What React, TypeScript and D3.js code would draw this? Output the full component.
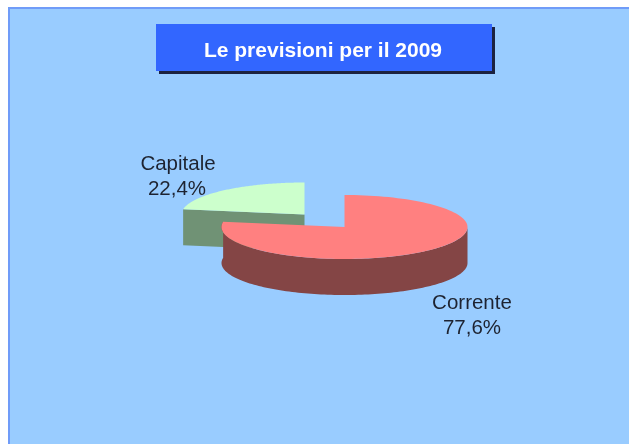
import React from "react";
import * as d3 from "d3";

const categories = ["Capitale", "Corrente"];
const values = [22.4, 77.6];
const valueLabels = ["22,4%", "77,6%"];
const titleText = "Le previsioni per il 2009";

const W = 629, H = 444;
const RX = 123, RY = 32, DEPTH = 36;
const centers = [{ x: 304.5, y: 214.5 }, { x: 344.5, y: 227 }];
const topColors = ["#ccffcc", "#ff8080"];
const sideColors = ["#6f9274", "#844545"];
const labelPos = [{ x: 178, y: 170 }, { x: 472, y: 309 }];

// Capitale ends at 12 o'clock; Corrente starts there and runs clockwise
const total = d3.sum(values);
const angle = d3.scaleLinear().domain([0, total]).range([0, 2 * Math.PI]);
const slices = [
  { start: -angle(values[0]), end: 0 },
  { start: 0, end: angle(values[1]) },
];

const pt = (c: { x: number; y: number }, a: number, dy = 0): [number, number] => [
  c.x + RX * Math.sin(a),
  c.y - RY * Math.cos(a) + dy,
];

const topPath = (i: number) => {
  const s = slices[i], c = centers[i];
  const pts = d3.range(0, 121).map((k) => pt(c, s.start + ((s.end - s.start) * k) / 120));
  return d3.line()([[c.x, c.y], ...pts, [c.x, c.y]]) + "Z";
};

// outer wall of Corrente: only the part facing the viewer
const wallPath = () => {
  const s = slices[1], c = centers[1];
  const from = Math.PI / 2, to = s.end;
  const arcPts = d3.range(0, 121).map((k) => from + ((to - from) * k) / 120);
  const upper = arcPts.map((a) => pt(c, a));
  const lower = arcPts.slice().reverse().map((a) => pt(c, a, DEPTH));
  return d3.line()([...upper, ...lower]) + "Z";
};

// cut face of Capitale, from the centre to its left corner
const facePath = () => {
  const s = slices[0], c = centers[0];
  const p = pt(c, s.start);
  return d3.line()([[c.x, c.y], p, [p[0], p[1] + DEPTH], [c.x, c.y + DEPTH]]) + "Z";
};

export default function App() {
  return (
    <svg
      width={W}
      height={H}
      viewBox={`0 0 ${W} ${H}`}
      style={{ position: "absolute", left: 0, top: 0, background: "#fff", display: "block" }}
    >
      <defs>
        <filter id="soft" x="-2%" y="-2%" width="104%" height="104%">
          <feGaussianBlur stdDeviation="0.5" />
        </filter>
      </defs>
      <g filter="url(#soft)">
        <rect x={9} y={8} width={W} height={H} fill="#99ccff" stroke="#6f9cf8" strokeWidth={2} />
        <rect x={159} y={27} width={336} height={47} fill="#1c2340" />
        <rect x={156} y={24} width={336} height={47} fill="#3366ff" />
        <text
          x={323}
          y={57}
          textAnchor="middle"
          fill="#fff"
          fontFamily="Liberation Sans"
          fontWeight="bold"
          fontSize={21}
        >
          {titleText}
        </text>
        <path d={facePath()} fill={sideColors[0]} />
        <path d={topPath(0)} fill={topColors[0]} />
        <path d={wallPath()} fill={sideColors[1]} />
        <path d={topPath(1)} fill={topColors[1]} />
        {categories.map((c, i) => (
          <g key={c} fontFamily="Liberation Sans" fontSize={20.5} fill="#1f2430" textAnchor="middle">
            <text x={labelPos[i].x} y={labelPos[i].y}>{c}</text>
            <text x={labelPos[i].x - (i === 0 ? 1 : 0)} y={labelPos[i].y + 25}>{valueLabels[i]}</text>
          </g>
        ))}
      </g>
    </svg>
  );
}
